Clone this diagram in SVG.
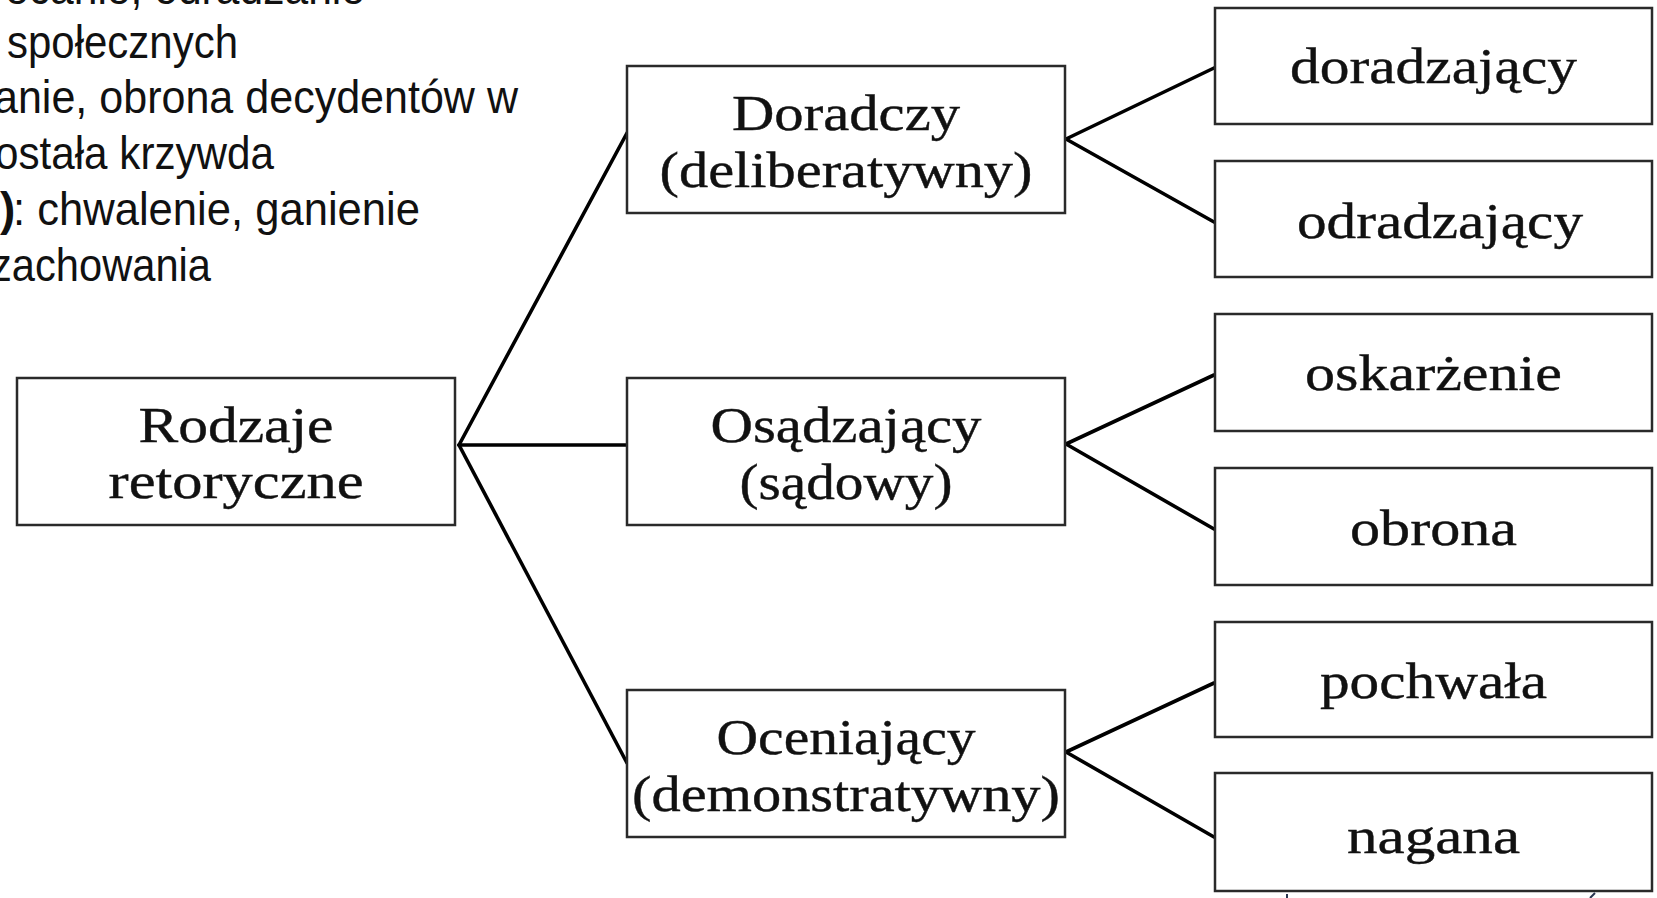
<svg xmlns="http://www.w3.org/2000/svg" width="1657" height="898" viewBox="0 0 1657 898">
<style>
.box{fill:#fff;stroke:#2a2a2a;stroke-width:2.5}
.lbl{font-family:"Liberation Serif","Times New Roman",serif;font-size:50px;fill:#111;stroke:#111;stroke-width:0.4;text-anchor:middle}
.side{font-family:"Liberation Sans",Arial,sans-serif;font-size:46px;fill:#111}
.conn{stroke:#000;stroke-width:3.6;fill:none;stroke-linecap:round}
</style>
<rect width="1657" height="898" fill="#fff"/>
<g id="side-text">
<text class="side" x="5" y="4" textLength="360" lengthAdjust="spacingAndGlyphs">ecanie, odradzanie</text>
<text class="side" x="7" y="58" textLength="231" lengthAdjust="spacingAndGlyphs">społecznych</text>
<text class="side" x="-6" y="113" textLength="524" lengthAdjust="spacingAndGlyphs">anie, obrona decydentów w</text>
<text class="side" x="-5" y="169" textLength="279" lengthAdjust="spacingAndGlyphs">ostała krzywda</text>
<text class="side" y="225"><tspan x="0" font-weight="bold">)</tspan><tspan x="13" textLength="407" lengthAdjust="spacingAndGlyphs">: chwalenie, ganienie</tspan></text>
<text class="side" x="-9" y="281" textLength="220" lengthAdjust="spacingAndGlyphs">zachowania</text>
</g>
<g id="connectors">
<line class="conn" x1="459" y1="445" x2="627" y2="133"/>
<line class="conn" x1="459" y1="445" x2="627" y2="445"/>
<line class="conn" x1="459" y1="445" x2="627" y2="763"/>
<line class="conn" x1="1066" y1="139" x2="1214" y2="68"/>
<line class="conn" x1="1066" y1="139" x2="1214" y2="222"/>
<line class="conn" x1="1066" y1="444" x2="1214" y2="375"/>
<line class="conn" x1="1066" y1="444" x2="1214" y2="529"/>
<line class="conn" x1="1066" y1="752" x2="1214" y2="683"/>
<line class="conn" x1="1066" y1="752" x2="1214" y2="837"/>
</g>
<g id="node-rodzaje">
<rect class="box" x="17" y="378" width="438" height="147"/>
<text class="lbl" x="236" y="442" textLength="195" lengthAdjust="spacingAndGlyphs">Rodzaje</text>
<text class="lbl" x="236" y="498" textLength="255" lengthAdjust="spacingAndGlyphs">retoryczne</text>
</g>
<g id="node-doradczy">
<rect class="box" x="627" y="66" width="438" height="147"/>
<text class="lbl" x="846" y="130" textLength="228" lengthAdjust="spacingAndGlyphs">Doradczy</text>
<text class="lbl" x="846" y="187" textLength="373" lengthAdjust="spacingAndGlyphs">(deliberatywny)</text>
</g>
<g id="node-osadzajacy">
<rect class="box" x="627" y="378" width="438" height="147"/>
<text class="lbl" x="846" y="442" textLength="271" lengthAdjust="spacingAndGlyphs">Osądzający</text>
<text class="lbl" x="846" y="499" textLength="213" lengthAdjust="spacingAndGlyphs">(sądowy)</text>
</g>
<g id="node-oceniajacy">
<rect class="box" x="627" y="690" width="438" height="147"/>
<text class="lbl" x="846" y="754" textLength="259" lengthAdjust="spacingAndGlyphs">Oceniający</text>
<text class="lbl" x="846" y="811" textLength="428" lengthAdjust="spacingAndGlyphs">(demonstratywny)</text>
</g>
<g id="node-doradzajacy">
<rect class="box" x="1215" y="8" width="437" height="116"/>
<text class="lbl" x="1433.5" y="83" textLength="287" lengthAdjust="spacingAndGlyphs">doradzający</text>
</g>
<g id="node-odradzajacy">
<rect class="box" x="1215" y="161" width="437" height="116"/>
<text class="lbl" x="1440" y="238" textLength="286" lengthAdjust="spacingAndGlyphs">odradzający</text>
</g>
<g id="node-oskarzenie">
<rect class="box" x="1215" y="314" width="437" height="117"/>
<text class="lbl" x="1433.5" y="390" textLength="257" lengthAdjust="spacingAndGlyphs">oskarżenie</text>
</g>
<g id="node-obrona">
<rect class="box" x="1215" y="468" width="437" height="117"/>
<text class="lbl" x="1433.5" y="545" textLength="167" lengthAdjust="spacingAndGlyphs">obrona</text>
</g>
<g id="node-pochwala">
<rect class="box" x="1215" y="622" width="437" height="115"/>
<text class="lbl" x="1433.5" y="698" textLength="227" lengthAdjust="spacingAndGlyphs">pochwała</text>
</g>
<g id="node-nagana">
<rect class="box" x="1215" y="773" width="437" height="118"/>
<text class="lbl" x="1433.5" y="853" textLength="173" lengthAdjust="spacingAndGlyphs">nagana</text>
</g>
<g id="fragments">
<line x1="1287" y1="894" x2="1287" y2="898" stroke="#2a3550" stroke-width="2"/>
<line x1="1590" y1="898" x2="1595" y2="893" stroke="#2a3550" stroke-width="2"/>
</g>
</svg>
